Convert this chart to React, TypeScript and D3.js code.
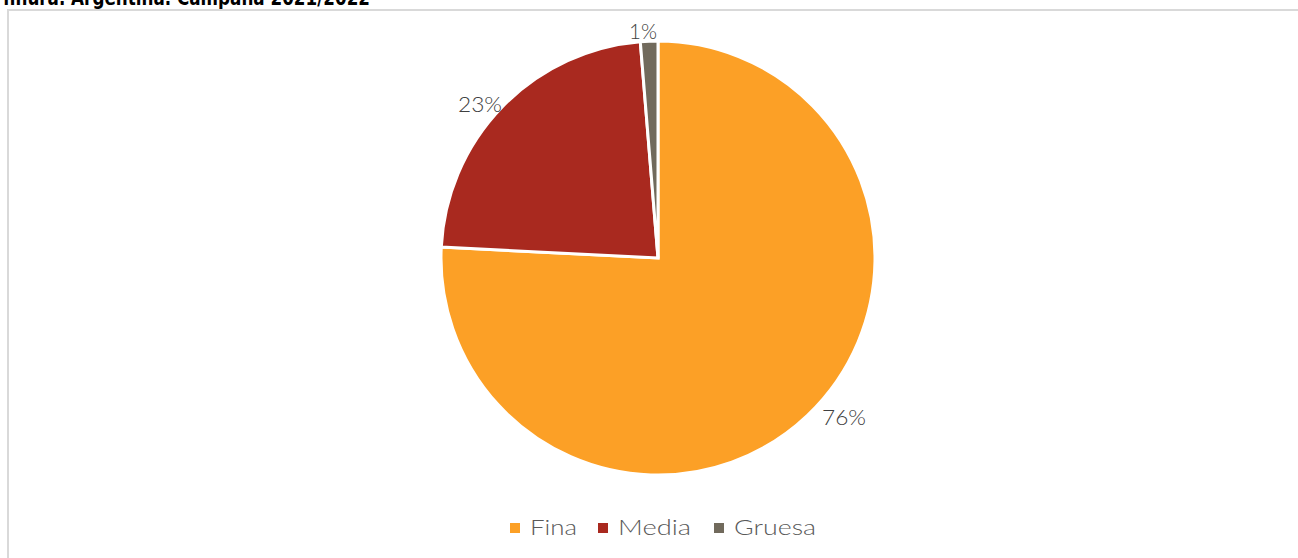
import React from "react";
import * as d3 from "d3";

const categories = ["Fina", "Media", "Gruesa"];
const values = [75.8, 22.9, 1.3];
const labels = ["76%", "23%", "1%"];
const colors = ["#FCA026", "#A9291F", "#716A5C"];
const title = "finura. Argentina. Campaña 2021/2022";

const W = 1298;
const H = 558;

export default function App() {
  const cx = 658;
  const cy = 258;
  const r = 217;
  const pie = d3.pie<number>().sort(null).value((d) => d)(values);
  const arc = d3.arc<d3.PieArcDatum<number>>().innerRadius(0).outerRadius(r);
  const labelPos = [
    [844, 425],
    [480, 112],
    [643, 39],
  ];
  const labelW = [44, 44, 28];
  const legendX = [515, 603, 719];
  const legendW = [47, 73, 82];
  const font = "'Lato', 'DejaVu Sans', sans-serif";
  return (
    <div style={{ position: "fixed", left: 0, top: 0 }}>
      <svg width={W} height={H} style={{ display: "block", background: "#fff" }}>
        <rect x={8} y={10} width={1300} height={560} fill="#fff" stroke="#d9d9d9" strokeWidth={2} />
        <text x={3} y={5} fontFamily="'DejaVu Sans', sans-serif" fontWeight="bold" fontSize={22} textLength={367} lengthAdjust="spacingAndGlyphs" fill="#000">
          {title}
        </text>
        <g transform={`translate(${cx},${cy})`}>
          {pie.map((p, i) => (
            <path key={i} d={arc(p) || ""} fill={colors[i]} stroke="#fff" strokeWidth={3} strokeLinejoin="miter" />
          ))}
        </g>
        {labels.map((l, i) => (
          <text key={i} x={labelPos[i][0] - labelW[i] / 2} y={labelPos[i][1]} fontFamily={font} fontSize={22} fill="#404040" fontWeight={300} textLength={labelW[i]} lengthAdjust="spacingAndGlyphs">
            {l}
          </text>
        ))}
        {categories.map((c, i) => (
          <g key={c}>
            <rect x={legendX[i] - 5} y={523} width={10} height={10} fill={colors[i]} />
            <text x={legendX[i] + 15} y={535} fontFamily={font} fontSize={22} fill="#595959" fontWeight={300} textLength={legendW[i]} lengthAdjust="spacingAndGlyphs">
              {c}
            </text>
          </g>
        ))}
      </svg>
    </div>
  );
}
